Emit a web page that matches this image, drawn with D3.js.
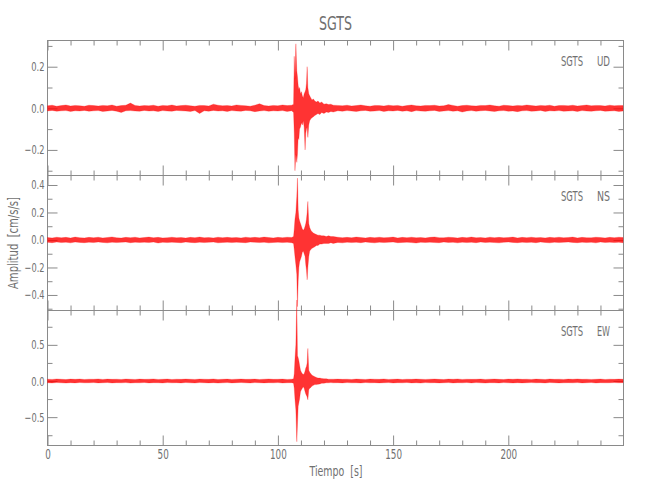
<!DOCTYPE html>
<html><head><meta charset="utf-8">
<script src="https://cdn.jsdelivr.net/npm/d3@7"></script>
<style>body{margin:0;background:#fff} text{white-space:pre}</style>
</head><body><svg id="c" width="650" height="500"></svg>
<script>
// ---------- DATA ----------
const chartTitle = "SGTS";
const station = "SGTS";
const components = ["UD", "NS", "EW"];
const xLabel = "Tiempo  [s]";
const yLabel = "Amplitud  [cm/s/s]";
const xDomain = [0, 250];
const xMajorTicks = [0, 50, 100, 150, 200];
const xMinorTicks = [10,20,30,40,60,70,80,90,110,120,130,140,160,170,180,190,210,220,230,240];
const yDomainUD = [-0.323, 0.326];
const yDomainNS = [-0.513, 0.469];
const yDomainEW = [-0.892, 0.975];
const yMajorUD = [-0.2, 0, 0.2];
const yMinorUD = [-0.3, -0.1, 0.1, 0.3];
const yMajorNS = [-0.4, -0.2, 0, 0.2, 0.4];
const yMinorNS = [-0.5, -0.3, -0.1, 0.1, 0.3];
const yMajorEW = [-0.5, 0, 0.5];
const yMinorEW = [-0.75, -0.25, 0.25, 0.75];

// time of each envelope sample (s)
const time = [
0,2,4,6,8,10,12,14,16,18, 20,22,24,26,28,30,32,34,36,38,
40,42,44,46,48,50,52,54,56,58, 60,62,64,66,68,70,72,74,76,78,
80,82,84,86,88,90,92,94,96,98, 100,102,104,106,
106.8,107.1,107.4,107.8,108.2,108.5,108.8,109.1,109.4,109.8,
110.2,110.6,111.0,111.4,111.8,112.1,112.4,112.7,113.0,113.4,
113.8,114.3,114.8,115.4,116,116.7,117.4,118.2,119,120,
121,122,123,124,
126,128,130,132,134,136,138,140,142,144, 146,148,150,152,154,156,158,160,162,164,
166,168,170,172,174,176,178,180,182,184, 186,188,190,192,194,196,198,200,202,204,
206,208,210,212,214,216,218,220,222,224, 226,228,230,232,234,236,238,240,242,244,
246,248,249.8];

// UD envelope (cm/s/s)
const udMax = [
0.012,0.015,0.010,0.013,0.016,0.011,0.014,0.012,0.010,0.015,
0.013,0.011,0.014,0.012,0.016,0.010,0.013,0.015,0.025,0.014,
0.011,0.013,0.012,0.015,0.010,0.014,0.012,0.016,0.011,0.013,
0.015,0.012,0.010,0.014,0.013,0.011,0.020,0.015,0.012,0.013,
0.011,0.016,0.014,0.012,0.010,0.015,0.022,0.013,0.011,0.014,
0.012,0.016,0.013,0.015,
0.020,0.250,0.140,0.310,0.180,0.150,0.110,0.090,0.100,0.070,
0.080,0.060,0.050,0.070,0.080,0.090,0.120,0.200,0.100,0.070,
0.060,0.050,0.040,0.045,0.035,0.030,0.035,0.025,0.030,0.020,
0.022,0.018,0.020,0.015,
0.014,0.012,0.015,0.011,0.013,0.016,0.012,0.010,0.014,0.013,
0.011,0.015,0.012,0.014,0.010,0.013,0.016,0.012,0.011,0.014,
0.013,0.015,0.011,0.012,0.018,0.014,0.010,0.013,0.015,0.012,
0.011,0.014,0.013,0.016,0.012,0.010,0.015,0.013,0.011,0.014,
0.012,0.016,0.013,0.011,0.014,0.012,0.015,0.010,0.013,0.014,
0.012,0.015,0.011,0.013,0.016,0.012,0.014,0.013,0.011,0.015,
0.012,0.014,0.013];
const udMin = [
-0.013,-0.010,-0.014,-0.012,-0.011,-0.015,-0.012,-0.013,-0.010,-0.014,
-0.012,-0.011,-0.015,-0.013,-0.010,-0.014,-0.020,-0.012,-0.011,-0.013,
-0.014,-0.010,-0.013,-0.012,-0.015,-0.011,-0.013,-0.014,-0.010,-0.012,
-0.013,-0.015,-0.011,-0.025,-0.012,-0.014,-0.010,-0.013,-0.012,-0.015,
-0.011,-0.013,-0.014,-0.010,-0.012,-0.016,-0.013,-0.011,-0.014,-0.012,
-0.013,-0.011,-0.015,-0.012,
-0.020,-0.120,-0.300,-0.220,-0.260,-0.220,-0.140,-0.150,-0.100,-0.090,
-0.070,-0.080,-0.060,-0.090,-0.200,-0.120,-0.100,-0.090,-0.140,-0.080,
-0.060,-0.050,-0.045,-0.040,-0.035,-0.030,-0.025,-0.030,-0.020,-0.025,
-0.018,-0.020,-0.015,-0.018,
-0.012,-0.014,-0.011,-0.013,-0.015,-0.012,-0.010,-0.014,-0.013,-0.011,
-0.015,-0.012,-0.013,-0.010,-0.014,-0.012,-0.016,-0.011,-0.013,-0.014,
-0.012,-0.010,-0.015,-0.013,-0.011,-0.014,-0.012,-0.018,-0.013,-0.011,
-0.014,-0.012,-0.010,-0.013,-0.015,-0.012,-0.011,-0.014,-0.013,-0.016,
-0.012,-0.011,-0.014,-0.013,-0.010,-0.015,-0.012,-0.013,-0.011,-0.014,
-0.013,-0.012,-0.015,-0.011,-0.013,-0.014,-0.012,-0.010,-0.014,-0.013,
-0.012,-0.015,-0.013];

// NS envelope (cm/s/s)
const nsMax = [
0.018,0.015,0.020,0.016,0.019,0.014,0.021,0.017,0.015,0.019,
0.016,0.020,0.015,0.018,0.022,0.016,0.014,0.019,0.017,0.020,
0.015,0.018,0.021,0.016,0.019,0.015,0.017,0.020,0.016,0.018,
0.014,0.019,0.017,0.021,0.016,0.018,0.015,0.020,0.017,0.019,
0.016,0.018,0.015,0.020,0.017,0.019,0.016,0.021,0.018,0.015,
0.019,0.017,0.020,0.018,
0.025,0.080,0.150,0.200,0.315,0.450,0.220,0.160,0.140,0.120,
0.100,0.080,0.070,0.080,0.100,0.120,0.150,0.200,0.280,0.120,
0.090,0.070,0.060,0.050,0.045,0.040,0.035,0.035,0.030,0.030,
0.025,0.030,0.025,0.025,
0.020,0.017,0.019,0.016,0.021,0.018,0.015,0.019,0.017,0.020,
0.016,0.018,0.021,0.015,0.019,0.017,0.020,0.016,0.018,0.015,
0.019,0.022,0.017,0.016,0.020,0.018,0.015,0.019,0.017,0.021,
0.016,0.018,0.015,0.020,0.017,0.019,0.016,0.018,0.021,0.015,
0.019,0.017,0.020,0.016,0.018,0.015,0.019,0.017,0.020,0.016,
0.018,0.021,0.015,0.019,0.017,0.016,0.020,0.018,0.015,0.019,
0.017,0.020,0.018];
const nsMin = [
-0.017,-0.020,-0.015,-0.019,-0.016,-0.021,-0.015,-0.018,-0.020,-0.016,
-0.019,-0.015,-0.018,-0.021,-0.016,-0.019,-0.017,-0.015,-0.020,-0.016,
-0.018,-0.016,-0.019,-0.015,-0.022,-0.017,-0.019,-0.016,-0.018,-0.020,
-0.015,-0.018,-0.020,-0.016,-0.019,-0.017,-0.015,-0.021,-0.018,-0.016,
-0.019,-0.016,-0.018,-0.020,-0.015,-0.017,-0.019,-0.016,-0.021,-0.018,
-0.016,-0.019,-0.017,-0.020,
-0.025,-0.070,-0.120,-0.180,-0.250,-0.485,-0.300,-0.200,-0.160,-0.140,
-0.120,-0.090,-0.080,-0.100,-0.120,-0.180,-0.220,-0.290,-0.200,-0.120,
-0.080,-0.070,-0.060,-0.055,-0.050,-0.040,-0.040,-0.030,-0.030,-0.025,
-0.025,-0.025,-0.020,-0.025,
-0.018,-0.021,-0.016,-0.019,-0.017,-0.020,-0.015,-0.018,-0.021,-0.016,
-0.019,-0.017,-0.015,-0.020,-0.018,-0.016,-0.019,-0.022,-0.017,-0.018,
-0.016,-0.019,-0.020,-0.015,-0.018,-0.017,-0.021,-0.016,-0.019,-0.017,
-0.020,-0.015,-0.018,-0.016,-0.019,-0.021,-0.017,-0.015,-0.018,-0.020,
-0.016,-0.019,-0.017,-0.020,-0.015,-0.018,-0.021,-0.016,-0.019,-0.017,
-0.015,-0.018,-0.020,-0.016,-0.019,-0.017,-0.021,-0.015,-0.018,-0.016,
-0.019,-0.017,-0.020];

// EW envelope (cm/s/s)
const ewMax = [
0.025,0.022,0.028,0.024,0.020,0.026,0.023,0.027,0.021,0.025,
0.024,0.028,0.022,0.026,0.023,0.025,0.021,0.027,0.024,0.022,
0.026,0.023,0.025,0.028,0.022,0.024,0.027,0.021,0.025,0.023,
0.027,0.024,0.022,0.026,0.025,0.023,0.028,0.021,0.024,0.026,
0.022,0.025,0.027,0.023,0.024,0.026,0.021,0.025,0.028,0.023,
0.024,0.026,0.022,0.025,
0.030,0.100,0.300,0.500,1.120,0.350,0.320,0.280,0.220,0.150,
0.120,0.100,0.090,0.100,0.140,0.180,0.200,0.250,0.450,0.150,
0.120,0.100,0.080,0.070,0.060,0.050,0.040,0.040,0.035,0.030,
0.030,0.025,0.025,0.025,
0.026,0.023,0.025,0.021,0.027,0.024,0.022,0.026,0.025,0.023,
0.028,0.022,0.024,0.026,0.021,0.025,0.023,0.027,0.024,0.022,
0.025,0.027,0.023,0.021,0.026,0.024,0.028,0.022,0.025,0.023,
0.024,0.026,0.022,0.025,0.027,0.023,0.021,0.026,0.024,0.028,
0.023,0.025,0.022,0.026,0.024,0.021,0.027,0.023,0.025,0.022,
0.026,0.024,0.028,0.023,0.025,0.022,0.024,0.027,0.021,0.025,
0.023,0.026,0.024];
const ewMin = [
-0.024,-0.027,-0.022,-0.025,-0.028,-0.023,-0.026,-0.021,-0.025,-0.024,
-0.022,-0.026,-0.024,-0.021,-0.027,-0.023,-0.025,-0.022,-0.028,-0.024,
-0.025,-0.021,-0.026,-0.023,-0.024,-0.027,-0.022,-0.025,-0.023,-0.026,
-0.021,-0.025,-0.027,-0.022,-0.024,-0.026,-0.023,-0.028,-0.025,-0.022,
-0.026,-0.023,-0.021,-0.025,-0.027,-0.022,-0.024,-0.026,-0.023,-0.025,
-0.022,-0.027,-0.024,-0.023,
-0.030,-0.100,-0.250,-0.400,-0.840,-0.600,-0.350,-0.300,-0.250,-0.150,
-0.120,-0.100,-0.080,-0.100,-0.150,-0.180,-0.200,-0.220,-0.260,-0.120,
-0.100,-0.090,-0.070,-0.060,-0.050,-0.050,-0.045,-0.040,-0.030,-0.030,
-0.025,-0.025,-0.022,-0.025,
-0.023,-0.026,-0.022,-0.025,-0.024,-0.027,-0.021,-0.025,-0.023,-0.026,
-0.024,-0.022,-0.027,-0.023,-0.025,-0.021,-0.026,-0.024,-0.028,-0.022,
-0.025,-0.023,-0.026,-0.024,-0.022,-0.027,-0.023,-0.025,-0.021,-0.026,
-0.022,-0.025,-0.028,-0.023,-0.024,-0.026,-0.022,-0.025,-0.027,-0.023,
-0.026,-0.024,-0.022,-0.025,-0.023,-0.027,-0.021,-0.024,-0.026,-0.025,
-0.023,-0.025,-0.022,-0.026,-0.024,-0.021,-0.027,-0.023,-0.025,-0.024,
-0.022,-0.025,-0.023];

// ---------- DRAWING ----------
const FONT = "'Liberation Sans Narrow','DejaVu Sans Condensed','Liberation Sans',sans-serif";
const TEXT = "#707070", AXIS = "#8a8a8a", TRACE = "#ff0000";
const svg = d3.select("#c");
const X0 = 47.5, X1 = 623.5, panelTops = [40.5, 175.5, 310.5], panelH = 135;
const x = d3.scaleLinear().domain(xDomain).range([X0, X1]);

const panels = [
  {comp: components[0], dom: yDomainUD, maj: yMajorUD, min: yMinorUD, hi: udMax, lo: udMin},
  {comp: components[1], dom: yDomainNS, maj: yMajorNS, min: yMinorNS, hi: nsMax, lo: nsMin},
  {comp: components[2], dom: yDomainEW, maj: yMajorEW, min: yMinorEW, hi: ewMax, lo: ewMin}
];

function styleAxis(g) {
  g.select(".domain").remove();
  g.selectAll("line").attr("stroke", AXIS).attr("stroke-width", 1);
  g.selectAll("text").attr("fill", TEXT).attr("font-family", FONT);
}

panels.forEach((p, i) => {
  const top = panelTops[i], bot = top + panelH;
  const y = d3.scaleLinear().domain(p.dom).range([bot, top]);
  p.y = y;
  const g = svg.append("g");
  g.append("rect").attr("x", X0).attr("y", top).attr("width", X1 - X0).attr("height", panelH)
    .attr("fill", "none").attr("stroke", AXIS).attr("stroke-width", 1);
  g.append("g").attr("transform", `translate(${X0},0)`)
    .call(d3.axisLeft(y).tickValues(p.maj).tickSize(-10).tickPadding(3).tickFormat(d3.format(".1f")))
    .call(styleAxis)
    .call(s => s.selectAll("text").attr("font-size", 12.5)
      .attr("textLength", d => d < 0 ? 20 : 13.3).attr("lengthAdjust", "spacingAndGlyphs"));
  g.append("g").attr("transform", `translate(${X0},0)`)
    .call(d3.axisLeft(y).tickValues(p.min).tickSize(-5).tickFormat(""))
    .call(styleAxis);
  g.append("g").attr("transform", `translate(${X1},0)`)
    .call(d3.axisRight(y).tickValues(p.maj).tickSize(-10).tickFormat(""))
    .call(styleAxis);
  g.append("g").attr("transform", `translate(${X1},0)`)
    .call(d3.axisRight(y).tickValues(p.min).tickSize(-5).tickFormat(""))
    .call(styleAxis);
  g.append("g").attr("transform", `translate(0,${top})`)
    .call(d3.axisTop(x).tickValues(xMajorTicks).tickSize(-10).tickFormat(""))
    .call(styleAxis);
  g.append("g").attr("transform", `translate(0,${top})`)
    .call(d3.axisTop(x).tickValues(xMinorTicks).tickSize(-5).tickFormat(""))
    .call(styleAxis);
  const last = i === panels.length - 1;
  g.append("g").attr("transform", `translate(0,${bot})`)
    .call(d3.axisBottom(x).tickValues(xMajorTicks).tickSize(-10).tickPadding(3.5)
      .tickFormat(last ? d3.format("d") : ""))
    .call(styleAxis)
    .call(s => s.selectAll("text").attr("font-size", 14)
      .attr("textLength", d => String(d).length * 5.6).attr("lengthAdjust", "spacingAndGlyphs"));
  g.append("g").attr("transform", `translate(0,${bot})`)
    .call(d3.axisBottom(x).tickValues(xMinorTicks).tickSize(-5).tickFormat(""))
    .call(styleAxis);
  g.append("text").attr("x", 583).attr("y", top + 25.5).attr("text-anchor", "end")
    .attr("font-family", FONT).attr("font-size", 13.5).attr("fill", TEXT)
    .attr("textLength", 22).attr("lengthAdjust", "spacingAndGlyphs").text(station);
  g.append("text").attr("x", 610).attr("y", top + 25.5).attr("text-anchor", "end")
    .attr("font-family", FONT).attr("font-size", 13.5).attr("fill", TEXT)
    .attr("textLength", 13).attr("lengthAdjust", "spacingAndGlyphs").text(p.comp);
});

// traces (drawn on top, not clipped)
panels.forEach(p => {
  const data = time.map((t, k) => ({t, hi: p.hi[k], lo: p.lo[k]}));
  const area = d3.area().x(d => x(d.t)).y0(d => p.y(d.lo)).y1(d => p.y(d.hi));
  svg.append("path").datum(data).attr("d", area)
    .attr("fill", TRACE).attr("fill-opacity", 0.8)
    .attr("stroke", TRACE).attr("stroke-width", 0.4).attr("stroke-opacity", 0.6);
});

// titles
svg.append("text").attr("x", 335.5).attr("y", 30).attr("text-anchor", "middle")
  .attr("font-family", FONT).attr("font-size", 20).attr("fill", TEXT)
  .attr("textLength", 33).attr("lengthAdjust", "spacingAndGlyphs").text(chartTitle);
svg.append("text").attr("x", 336).attr("y", 475.5).attr("text-anchor", "middle")
  .attr("font-family", FONT).attr("font-size", 14).attr("fill", TEXT)
  .attr("textLength", 53).attr("lengthAdjust", "spacingAndGlyphs").text(xLabel);
svg.append("text").attr("transform", "translate(18,243) rotate(-90)").attr("text-anchor", "middle")
  .attr("font-family", FONT).attr("font-size", 14).attr("fill", TEXT)
  .attr("textLength", 92).attr("lengthAdjust", "spacingAndGlyphs").text(yLabel);
</script>
</body></html>
